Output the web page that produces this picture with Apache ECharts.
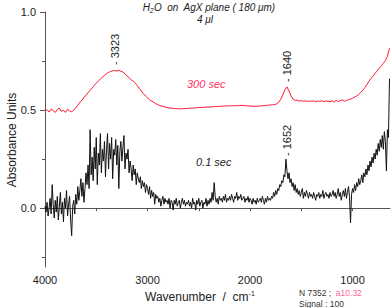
<!DOCTYPE html>
<html>
<head>
<meta charset="utf-8">
<script src="https://cdn.jsdelivr.net/npm/echarts@6/dist/echarts.min.js"></script>
<style>html,body{margin:0;padding:0;background:#fff}#c{width:392px;height:308px}</style>
</head>
<body>
<div id="c"></div>
<script>
// wavenumber grids (cm-1)
const blackStart = 4000, blackStep = 10;
const redStart = 4000, redStep = 20;
// 0.1 sec spectrum, 4000 -> 640 cm-1 every 10 cm-1
const absorb01 = [
0.01,-0.02,0.03,-0.04,0.0,0.05,-0.03,0.12,0.02,-0.05,0.04,-0.02,0.06,-0.06,0.01,0.08,-0.03,0.03,-0.07,0.05,
0.0,0.09,-0.04,0.02,0.06,-0.06,-0.14,0.01,0.04,-0.03,0.07,0.02,0.11,0.04,0.09,0.15,0.06,0.13,0.03,0.10,
0.18,0.12,0.22,0.1,0.4,0.17,0.26,0.14,0.31,0.2,0.36,0.12,0.28,0.22,0.38,0.18,0.3,0.24,0.34,0.16,
0.3,0.38,0.2,0.33,0.25,0.36,0.15,0.3,0.27,0.35,0.22,0.32,0.1,0.29,0.34,0.24,0.31,0.37,0.2,0.28,
0.25,0.3,0.18,0.24,0.2,0.14,0.22,0.17,0.2,0.12,0.18,0.15,0.13,0.16,0.1,0.14,0.11,0.13,0.08,0.12,
0.1,0.07,0.11,0.05,0.09,0.06,0.08,0.02,0.07,0.05,0.06,0.03,0.05,0.01,0.04,0.06,0.02,0.05,0.03,0.04,
0.02,0.05,0.0,0.04,0.03,-0.01,0.04,0.02,0.05,0.01,0.03,0.04,0.0,0.03,0.05,0.02,0.04,0.01,0.03,0.02,
0.04,0.01,0.03,0.0,0.05,0.02,0.03,-0.01,0.04,0.02,0.05,0.01,0.03,0.04,0.0,0.03,0.02,0.05,0.01,0.04,
0.02,0.05,0.03,0.08,0.04,0.13,0.06,0.03,0.05,0.02,0.06,0.04,0.05,0.03,0.06,0.04,0.07,0.03,0.05,0.04,
0.06,0.04,0.07,0.05,0.03,0.06,0.05,0.08,0.04,0.06,0.05,0.07,0.04,0.05,0.06,0.03,0.05,0.04,0.06,0.03,
0.05,0.04,0.02,0.05,0.03,0.04,0.02,0.05,0.03,0.04,0.05,0.03,0.06,0.04,0.02,0.05,0.03,0.06,0.04,0.05,
0.04,0.06,0.05,0.08,0.06,0.09,0.07,0.1,0.09,0.12,0.11,0.14,0.13,0.17,0.16,0.25,0.19,0.15,0.18,0.13,
0.15,0.11,0.13,0.09,0.12,0.08,0.1,0.07,0.09,0.06,0.08,0.1,0.05,0.08,0.06,0.09,0.07,0.05,0.08,0.06,
0.07,0.05,0.08,0.06,0.04,0.07,0.06,0.08,0.05,0.07,0.06,0.09,0.05,0.07,0.08,0.06,0.07,0.05,0.08,0.06,
0.07,0.09,0.06,0.08,0.05,0.07,0.1,0.06,0.08,0.04,0.07,0.09,0.06,0.1,0.05,0.08,0.11,0.06,-0.075,0.07,
0.1,0.08,0.12,0.09,0.13,0.11,0.15,0.12,0.14,0.17,0.13,0.18,0.16,0.2,0.17,0.22,0.19,0.24,0.21,0.26,
0.23,0.28,0.25,0.3,0.27,0.33,0.29,0.35,0.31,0.37,0.3,0.39,0.34,0.19,0.4,0.36,0.66
];
// 300 sec spectrum, 4000 -> 640 cm-1 every 20 cm-1
const absorb300 = [
0.495,0.502,0.49,0.505,0.497,0.488,0.503,0.51,0.493,0.5,
0.488,0.504,0.496,0.492,0.5,0.51,0.525,0.54,0.55,0.565,
0.575,0.59,0.6,0.613,0.625,0.637,0.648,0.658,0.668,0.677,
0.686,0.692,0.697,0.7,0.702,0.699,0.703,0.698,0.694,0.685,
0.675,0.665,0.655,0.648,0.638,0.625,0.61,0.597,0.584,0.572,
0.562,0.553,0.546,0.54,0.533,0.528,0.523,0.52,0.517,0.514,
0.512,0.51,0.509,0.508,0.507,0.507,0.506,0.507,0.508,0.508,
0.509,0.51,0.51,0.511,0.512,0.513,0.513,0.514,0.515,0.515,
0.516,0.516,0.517,0.518,0.518,0.519,0.52,0.52,0.521,0.521,
0.522,0.521,0.522,0.523,0.522,0.523,0.524,0.523,0.522,0.521,
0.521,0.52,0.52,0.519,0.52,0.521,0.522,0.523,0.524,0.525,
0.526,0.527,0.528,0.532,0.54,0.555,0.578,0.603,0.618,0.598,
0.572,0.556,0.549,0.551,0.546,0.548,0.545,0.547,0.544,0.546,
0.545,0.547,0.543,0.546,0.544,0.548,0.543,0.546,0.545,0.542,
0.548,0.541,0.55,0.543,0.547,0.552,0.545,0.549,0.553,0.556,
0.56,0.566,0.572,0.58,0.59,0.602,0.615,0.63,0.647,0.662,
0.672,0.688,0.7,0.713,0.725,0.738,0.752,0.775,0.815
];
const xLabelValues = [4000, 3000, 2000, 1000];
const xTickValues = [4000, 3500, 3000, 2500, 2000, 1500, 1000];
const yLabelValues = [0, 0.5, 1.0];
const yMinorTicks = [-0.25, 0.25, 0.75];
const peakLabels = [
  {text: '- 3323', w: 3323},
  {text: '- 1640', w: 1640},
  {text: '- 1652', w: 1652}
];

const d01 = absorb01.map((v, i) => [blackStart - i * blackStep, v]);
const d300 = absorb300.map((v, i) => [redStart - i * redStep, v]);

const chart = echarts.init(document.getElementById('c'), null, {renderer: 'svg'});
const F = 'Liberation Sans, Arial, sans-serif';
const axisCol = '#555';
chart.setOption({
  animation: false,
  grid: {left: 45, right: 2, top: 12, bottom: 41},
  xAxis: {
    type: 'value', inverse: true, min: 635, max: 4000,
    axisLine: {show: true, lineStyle: {color: axisCol, width: 1}},
    axisTick: {show: true, length: 3, customValues: xTickValues, lineStyle: {color: axisCol}},
    axisLabel: {customValues: xLabelValues, margin: 7, color: '#222', fontFamily: F, fontSize: 11,
      formatter: v => String(v)},
    splitLine: {show: false}
  },
  yAxis: [{
    type: 'value', min: -0.3, max: 1.0,
    axisLine: {show: true, lineStyle: {color: axisCol, width: 1}},
    axisTick: {show: true, length: 5, customValues: yLabelValues, lineStyle: {color: axisCol}},
    axisLabel: {customValues: yLabelValues, margin: 9, color: '#222', fontFamily: F, fontSize: 11,
      formatter: v => v.toFixed(1)},
    splitLine: {show: false}
  }, {
    type: 'value', min: -0.3, max: 1.0, position: 'left',
    axisLine: {show: false},
    axisTick: {show: true, length: 3, customValues: yMinorTicks, lineStyle: {color: axisCol}},
    axisLabel: {show: false},
    splitLine: {show: false}
  }],
  series: [{
    type: 'line', data: d300, showSymbol: false, yAxisIndex: 0,
    lineStyle: {color: '#ff1430', width: 1}, z: 3
  }, {
    type: 'line', data: d01, showSymbol: false, yAxisIndex: 0,
    lineStyle: {color: '#111', width: 1}, z: 2
  }],
  graphic: [
    {type: 'text', x: 209, y: 7, style: {
      text: '{i|H}{s|2}{i|O  on  AgX plane ( 180 μm)}', align: 'center', verticalAlign: 'middle',
      rich: {i: {fontFamily: F, fontStyle: 'italic', fontSize: 10, fill: '#222'},
             s: {fontFamily: F, fontStyle: 'italic', fontSize: 7, fill: '#222', padding: [6, 0, 0, 0]}}}},
    {type: 'text', x: 205, y: 19, style: {text: '4 μl', align: 'center', verticalAlign: 'middle',
      font: 'italic 10px ' + F, fill: '#222'}},
    {type: 'text', x: 187, y: 84, style: {text: '300 sec', align: 'left', verticalAlign: 'middle',
      font: 'italic 11px ' + F, fill: '#ff3366'}},
    {type: 'text', x: 196, y: 162, style: {text: '0.1 sec', align: 'left', verticalAlign: 'middle',
      font: 'italic 11px ' + F, fill: '#222'}},
    {type: 'text', x: 115, y: 65, rotation: Math.PI / 2, style: {text: peakLabels[0].text, align: 'left',
      verticalAlign: 'middle', font: '11px ' + F, fill: '#222'}},
    {type: 'text', x: 287, y: 82, rotation: Math.PI / 2, style: {text: peakLabels[1].text, align: 'left',
      verticalAlign: 'middle', font: '11px ' + F, fill: '#222'}},
    {type: 'text', x: 287, y: 156, rotation: Math.PI / 2, style: {text: peakLabels[2].text, align: 'left',
      verticalAlign: 'middle', font: '11px ' + F, fill: '#222'}},
    {type: 'text', x: 12, y: 140, rotation: Math.PI / 2, style: {text: 'Absorbance Units', align: 'center',
      verticalAlign: 'middle', font: '12px ' + F, fill: '#222'}},
    {type: 'text', x: 145, y: 297, style: {
      text: '{a|Wavenumber  /  cm}{b|-1}', align: 'left', verticalAlign: 'middle',
      rich: {a: {fontFamily: F, fontSize: 12, fill: '#222'},
             b: {fontFamily: F, fontSize: 7, fill: '#222', padding: [0, 0, 8, 0]}}}},
    {type: 'text', x: 299, y: 293, style: {
      text: '{a|N 7352 ;  }{b|a10.32}', align: 'left', verticalAlign: 'middle',
      rich: {a: {fontFamily: F, fontSize: 8.5, fill: '#333'}, b: {fontFamily: F, fontSize: 8.5, fill: '#ff6699'}}}},
    {type: 'text', x: 299, y: 304, style: {text: 'Signal : 100', align: 'left', verticalAlign: 'middle',
      font: '8.5px ' + F, fill: '#333'}}
  ]
});
</script>
</body>
</html>
